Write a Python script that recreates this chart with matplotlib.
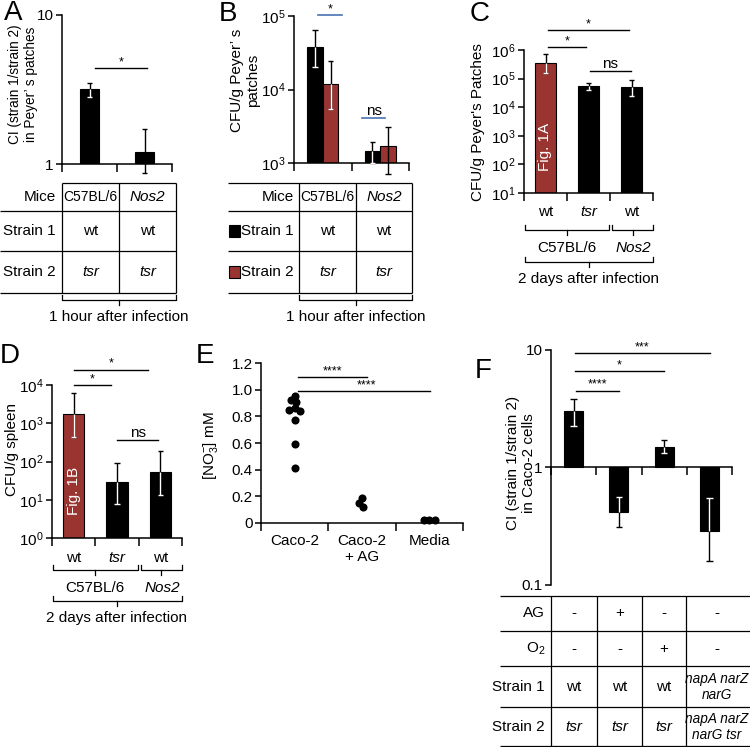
import numpy as np
import matplotlib
matplotlib.use("Agg")
import matplotlib.pyplot as plt
from matplotlib.ticker import FixedLocator, NullLocator

# ---- data ----
# A: competitive index in Peyer's patches, 1 h
a_mice = ["C57BL/6", "Nos2"]
a_ci = [3.2, 1.2]
a_ci_lo = [2.8, 0.87]
a_ci_hi = [3.5, 1.72]

# B: CFU/g Peyer's patches, 1 h
b_mice = ["C57BL/6", "Nos2"]
b_strain1 = [38000, 1450]
b_strain1_lo = [20500, 1010]
b_strain1_hi = [65000, 1920]
b_strain2 = [12000, 1700]
b_strain2_lo = [5500, 700]
b_strain2_hi = [24700, 3070]

# C / D: 2 days after infection
cd_strains = ["wt", "tsr", "wt"]
c_cfu = [3.6e5, 5.6e4, 5.2e4]
c_cfu_lo = [1.6e5, 4.0e4, 2.5e4]
c_cfu_hi = [7.2e5, 7.0e4, 9.2e4]
d_cfu = [1740, 29, 53]
d_cfu_lo = [436, 7.7, 13.2]
d_cfu_hi = [6100, 91, 187]

# E: nitrate
e_groups = ["Caco-2", "Caco-2\n+ AG", "Media"]
e_caco2 = [0.95, 0.92, 0.905, 0.86, 0.85, 0.84, 0.775, 0.59, 0.41]
e_caco2_ag = [0.185, 0.15, 0.12]
e_media = [0.02, 0.025, 0.025]

# F: CI in Caco-2 cells
f_ci = [3.0, 0.42, 1.48, 0.29]
f_ci_lo = [2.24, 0.31, 1.32, 0.16]
f_ci_hi = [3.8, 0.56, 1.7, 0.55]
f_ag = ["-", "+", "-", "-"]
f_o2 = ["-", "-", "+", "-"]
f_strain1 = ["wt", "wt", "wt", "napA narZ\nnarG"]
f_strain2 = ["tsr", "tsr", "tsr", "napA narZ\nnarG tsr"]

RED = "#9a3431"
BLUE = "#4a72b0"
W, H = 750, 747
FS = 11
STAR = 9

plt.rcParams['font.family'] = ['Liberation Sans', 'DejaVu Sans']
plt.rcParams['mathtext.fontset'] = 'custom'
plt.rcParams['mathtext.rm'] = 'Liberation Sans'
plt.rcParams['mathtext.it'] = 'Liberation Sans:italic'
plt.rcParams['mathtext.default'] = 'regular'

fig = plt.figure(figsize=(W / 100, H / 100), dpi=100)
ov = fig.add_axes([0, 0, 1, 1])
ov.set_xlim(0, W)
ov.set_ylim(H, 0)
ov.axis('off')


def txt(x, y, s, **kw):
    kw.setdefault('fontsize', FS)
    kw.setdefault('ha', 'center')
    kw.setdefault('va', 'center')
    ov.text(x, y, s, **kw)


def hline(y, x0, x1):
    ov.plot([x0, x1], [y, y], color='k', lw=0.9, solid_capstyle='butt')


def vline(x, y0, y1):
    ov.plot([x, x], [y0, y1], color='k', lw=0.9, solid_capstyle='butt')


def brace(x0, x1, y, h=5):
    ov.plot([x0, x0, x1, x1], [y - h, y, y, y - h], color='k', lw=0.9)
    xc = (x0 + x1) / 2
    ov.plot([xc, xc], [y, y + h], color='k', lw=0.9)


def place(x0, y0, x1, y1):
    ax = fig.add_axes([x0 / W, 1 - y1 / H, (x1 - x0) / W, (y1 - y0) / H])
    ax.patch.set_visible(False)
    return ax


def px_x(ax, x):
    return ax.transData.transform((x, ax.get_ylim()[0]))[0]


def style_axis(ax, n, yticks, ylabels):
    ax.spines[['top', 'right']].set_visible(False)
    for s in ('left', 'bottom'):
        ax.spines[s].set_linewidth(1.1)
    ax.set_xlim(-0.5, n - 0.5)
    ax.set_xticks(np.arange(n))
    ax.set_xticklabels([])
    ax.xaxis.set_minor_locator(FixedLocator(np.arange(n + 1) - 0.5))
    ax.tick_params(axis='x', which='major', length=0)
    ax.tick_params(axis='x', which='minor', length=6, width=1.1, direction='out')
    ax.set_yticks(yticks)
    ax.set_yticklabels(ylabels)
    ax.yaxis.set_minor_locator(NullLocator())
    ax.tick_params(axis='y', which='major', length=4, width=1.1,
                   direction='out', labelsize=FS, pad=2)


def errbar(ax, x, v, lo, hi, base, cap):
    ymin = ax.get_ylim()[0]
    kw = dict(lw=1.0, clip_on=False, solid_capstyle='butt')
    ax.plot([x, x], [lo, hi], color='k', zorder=3, **kw)
    ax.plot([x - cap, x + cap], [hi, hi], color='k', zorder=3, **kw)
    ax.plot([x - cap, x + cap], [lo, lo], color='k', zorder=3, **kw)
    if lo < ymin:
        return
    # the part of the error bar inside the bar is drawn white
    if v >= base:
        ax.plot([x, x], [max(lo, base), v], color='w', zorder=4, **kw)
        if lo >= base:
            ax.plot([x - cap, x + cap], [lo, lo], color='w', zorder=4, **kw)
    else:
        ax.plot([x, x], [v, min(hi, base)], color='w', zorder=4, **kw)
        if hi <= base:
            ax.plot([x - cap, x + cap], [hi, hi], color='w', zorder=4, **kw)


def sig(ax, x0, x1, yf, label, color='k'):
    tr = ax.get_xaxis_transform()
    ax.plot([x0, x1], [yf, yf], transform=tr, color=color, lw=1.0, clip_on=False)
    fs = FS if label == 'ns' else STAR
    ax.text((x0 + x1) / 2, yf, label, transform=tr, ha='center', va='bottom',
            fontsize=fs, clip_on=False)


def swarm(ax, xc, values, sep):
    placed, xs = [], []
    cands = [0.0] + [s * k for k in np.arange(0.5, 30, 0.5) for s in (-1, 1)]
    for v in values:
        px, py = ax.transData.transform((xc, v))
        off = 0.0
        for c in cands:
            if all((px + c - qx) ** 2 + (py - qy) ** 2 >= sep ** 2 for qx, qy in placed):
                off = c
                break
        placed.append((px + off, py))
        xs.append(ax.transData.inverted().transform((px + off, py))[0])
    return xs


# ---------------- panel A ----------------
axA = place(62, 15, 172, 164)
axA.set_yscale('log')
axA.set_ylim(1, 10)
style_axis(axA, 2, [1, 10], ['1', '10'])
xa = np.arange(len(a_ci))
axA.bar(xa, np.array(a_ci) - 1, bottom=1, width=0.36, color='k', edgecolor='k', lw=0.8)
for i in range(len(a_ci)):
    errbar(axA, xa[i], a_ci[i], a_ci_lo[i], a_ci_hi[i], 1, 0.045)
sig(axA, 0.1, 1.05, 0.644, '*')
txt(13, 13, 'A', fontsize=20)
txt(23, 84, 'CI (strain 1/strain 2)\nin Peyer\u2019 s patches', rotation=90,
    multialignment='center', linespacing=1.15, fontsize=9.8)

# table A
hline(183, 62, 176)
for y in (211, 251, 293):
    hline(y, 0, 176)
for x in (62, 119, 176):
    vline(x, 183, 293)
txt(56, 197, 'Mice', ha='right')
txt(90.5, 197, a_mice[0], fontsize=10)
txt(147.5, 197, a_mice[1], style='italic')
txt(56, 231, 'Strain 1', ha='right')
txt(56, 272, 'Strain 2', ha='right')
for xc in (90.5, 147.5):
    txt(xc, 231, 'wt')
    txt(xc, 272, 'tsr', style='italic')
brace(62, 176, 300)
txt(119, 317, '1 hour after infection')

# ---------------- panel B ----------------
axB = place(294, 16, 409, 163)
axB.set_yscale('log')
axB.set_ylim(1e3, 1e5)
style_axis(axB, 2, [1e3, 1e4, 1e5], [r'$10^{3}$', r'$10^{4}$', r'$10^{5}$'])
xb = np.arange(len(b_strain1))
bw = 0.27
axB.bar(xb - bw / 2, np.array(b_strain1) - 1e3, bottom=1e3, width=bw,
        color='k', edgecolor='k', lw=0.8)
axB.bar(xb + bw / 2, np.array(b_strain2) - 1e3, bottom=1e3, width=bw,
        color=RED, edgecolor='k', lw=0.8)
for i in range(len(xb)):
    errbar(axB, xb[i] - bw / 2, b_strain1[i], b_strain1_lo[i], b_strain1_hi[i], 1e3, 0.05)
    errbar(axB, xb[i] + bw / 2, b_strain2[i], b_strain2_lo[i], b_strain2_hi[i], 1e3, 0.05)
tr = axB.get_xaxis_transform()
axB.plot([-0.08, 0.34], [1.007, 1.007], transform=tr, color=BLUE, lw=1.2, clip_on=False)
axB.text(0.13, 1.007, '*', transform=tr, ha='center', va='bottom', fontsize=STAR)
axB.plot([0.69, 1.09], [0.306, 0.306], transform=tr, color=BLUE, lw=1.2, clip_on=False)
axB.text(0.89, 0.306, 'ns', transform=tr, ha='center', va='bottom', fontsize=FS)
txt(228, 14, 'B', fontsize=20)
txt(245, 80, 'CFU/g Peyer\u2019 s\npatches', rotation=90, multialignment='center',
    linespacing=1.1)

# table B
for y in (183, 211, 251, 293):
    hline(y, 228, 412)
for x in (299, 356, 412):
    vline(x, 183, 293)
txt(294, 197, 'Mice', ha='right')
txt(327.5, 197, b_mice[0], fontsize=10)
txt(384, 197, b_mice[1], style='italic')
txt(294, 231, 'Strain 1', ha='right')
txt(294, 272, 'Strain 2', ha='right')
ov.add_patch(plt.Rectangle((229, 225), 11, 12, facecolor='k', edgecolor='k', lw=0.8))
ov.add_patch(plt.Rectangle((229, 266), 11, 12, facecolor=RED, edgecolor='k', lw=0.8))
for xc in (327.5, 384):
    txt(xc, 231, 'wt')
    txt(xc, 272, 'tsr', style='italic')
brace(299, 412, 300)
txt(356, 317, '1 hour after infection')


# ---------------- panels C and D ----------------
def cfu_panel(ax, vals, lo, hi, dec0, dec1, fig_label, label_y):
    base = 10.0 ** dec0
    ax.set_yscale('log')
    ax.set_ylim(base, 10.0 ** dec1)
    decs = np.arange(dec0, dec1 + 1)
    style_axis(ax, 3, 10.0 ** decs, [r'$10^{%d}$' % d for d in decs])
    x = np.arange(len(vals))
    colors = [RED, 'k', 'k']
    ax.bar(x, np.array(vals) - base, bottom=base, width=0.5, color=colors,
           edgecolor='k', lw=0.8)
    for i in range(len(vals)):
        errbar(ax, x[i], vals[i], lo[i], hi[i], base, 0.06)
    ax.set_xticks(x, cd_strains)
    ax.tick_params(axis='x', which='major', labelsize=FS, pad=9)
    for lbl in ax.get_xticklabels():
        if lbl.get_text() == 'tsr':
            lbl.set_style('italic')
    ax.text(0, label_y, fig_label, rotation=90, color='w', ha='center',
            va='center', fontsize=FS)


axC = place(524, 50, 653, 193)
cfu_panel(axC, c_cfu, c_cfu_lo, c_cfu_hi, 1, 6, 'Fig. 1A', 400)
sig(axC, 0.06, 1.94, 1.14, '*')
sig(axC, 0.06, 0.94, 1.02, '*')
sig(axC, 1.03, 1.99, 0.853, 'ns')
txt(480, 14, 'C', fontsize=20)
txt(478, 122, "CFU/g Peyer's Patches", rotation=90)

axD = place(52, 385, 182, 538)
cfu_panel(axD, d_cfu, d_cfu_lo, d_cfu_hi, 0, 4, 'Fig. 1B', 17)
sig(axD, 0.01, 1.72, 1.10, '*')
sig(axD, 0.01, 0.86, 1.0, '*')
sig(axD, 1.0, 1.95, 0.64, 'ns')
txt(10, 356, 'D', fontsize=20)
txt(12, 450, 'CFU/g spleen', rotation=90)

for ax, yb, yl, yb2, yl2 in ((axC, 230, 248, 262, 279), (axD, 570, 588, 601, 618)):
    xl, xm, xr = px_x(ax, -0.5), px_x(ax, 1.5), px_x(ax, 2.5)
    brace(xl + 1, xm - 1, yb)
    brace(xm + 2, xr, yb)
    txt((xl + xm) / 2, yl, 'C57BL/6')
    txt((xm + xr) / 2 + 2, yl, 'Nos2', style='italic')
    brace(xl + 1, xr, yb2)
    txt((xl + xr) / 2, yl2, '2 days after infection')

# ---------------- panel E ----------------
axE = place(261, 363, 463, 523)
axE.set_ylim(0, 1.2)
yt = np.round(np.arange(0, 1.21, 0.2), 1)
style_axis(axE, 3, yt, ['0'] + ['%.1f' % v for v in yt[1:]])
axE.set_xticks(np.arange(3), e_groups)
axE.tick_params(axis='x', which='major', labelsize=FS, pad=8)
for i, vals in enumerate((e_caco2, e_caco2_ag, e_media)):
    xs = swarm(axE, i, vals, 5.5)
    axE.scatter(xs, vals, s=34, color='k', zorder=3, clip_on=False, lw=0)
tr = axE.get_xaxis_transform()
for x0, x1, yf in ((0.05, 1.07, 0.912), (0.05, 2.01, 0.825)):
    axE.plot([x0, x1], [yf, yf], transform=tr, color='k', lw=1.0, clip_on=False)
axE.text(0.56, 0.912, '****', transform=tr, ha='center', va='bottom', fontsize=STAR)
axE.text(1.07, 0.825, '****', transform=tr, ha='center', va='bottom', fontsize=STAR)
txt(205, 356, 'E', fontsize=20)
txt(211, 446, r'[NO$_3^{-}$] mM', rotation=90)

# ---------------- panel F ----------------
axF = place(551, 350, 732, 585)
axF.set_yscale('log')
axF.set_ylim(0.1, 10)
style_axis(axF, 4, [0.1, 1, 10], ['0.1', '1', '10'])
axF.spines['bottom'].set_position(('data', 1))
xf = np.arange(len(f_ci))
axF.bar(xf, np.array(f_ci) - 1, bottom=1, width=0.42, color='k', edgecolor='k', lw=0.8)
for i in range(len(f_ci)):
    errbar(axF, xf[i], f_ci[i], f_ci_lo[i], f_ci_hi[i], 1, 0.07)
sig(axF, 0.03, 3.01, 0.987, '***')
sig(axF, 0.03, 2.0, 0.91, '*')
sig(axF, 0.05, 1.0, 0.826, '****')
txt(483, 371, 'F', fontsize=20)
txt(521, 463, 'CI (strain 1/strain 2)\nin Caco-2 cells', rotation=90,
    multialignment='center', linespacing=1.1)

# table F
for y in (596, 631, 666, 707, 746):
    hline(y, 500, 750)
for x in (551, 597, 642, 686):
    vline(x, 596, 746)
col_x = [574, 619.5, 664, 717]
rows = [(613, 'AG', f_ag), (649, r'O$_2$', f_o2),
        (687, 'Strain 1', f_strain1), (727, 'Strain 2', f_strain2)]
for y, name, vals in rows:
    txt(545, y, name, ha='right')
    for xc, v in zip(col_x, vals):
        it = 'italic' if ('nar' in v or v == 'tsr') else 'normal'
        txt(xc, y, v, style=it, linespacing=1.1, fontsize=FS if len(v) < 5 else 9.8)

fig.savefig('out.png', dpi=100)
